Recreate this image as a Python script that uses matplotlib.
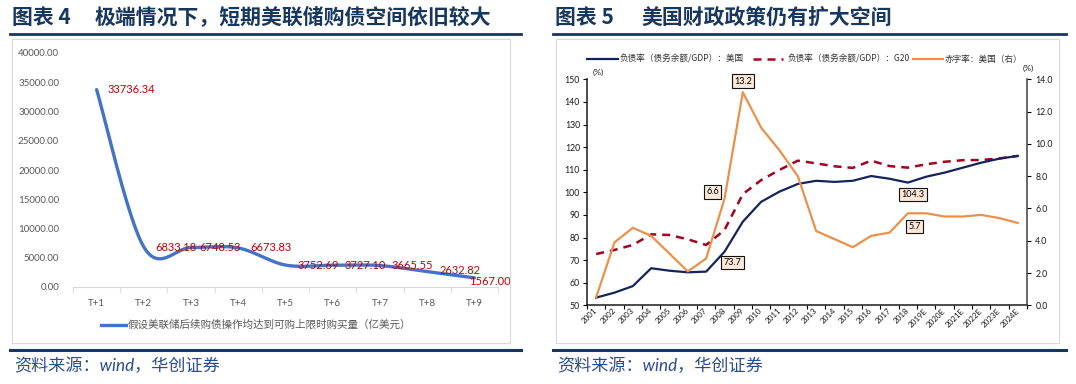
import numpy as np
import matplotlib
matplotlib.use("Agg")
import matplotlib.pyplot as plt
from matplotlib.lines import Line2D
from matplotlib.patches import Rectangle

plt.rcParams['font.family'] = ['Lato', 'Noto Sans CJK SC', 'DejaVu Sans']

# ---------------- data ----------------
left_title_no = "图表 4"
left_title = "极端情况下，短期美联储购债空间依旧较大"
left_cats = ['T+1', 'T+2', 'T+3', 'T+4', 'T+5', 'T+6', 'T+7', 'T+8', 'T+9']
left_vals = [33736.34, 6833.18, 6748.53, 6673.83, 3752.69, 3727.10, 3665.55, 2632.82, 1567.00]
left_series = "假设美联储后续购债操作均达到可购上限时购买量（亿美元）"

right_title_no = "图表 5"
right_title = "美国财政政策仍有扩大空间"
years = ['2001', '2002', '2003', '2004', '2005', '2006', '2007', '2008', '2009', '2010',
         '2011', '2012', '2013', '2014', '2015', '2016', '2017', '2018', '2019E', '2020E',
         '2021E', '2022E', '2023E', '2024E']
debt_us = [53.4, 55.6, 58.5, 66.4, 65.3, 64.6, 64.9, 73.7, 87.0, 95.8, 100.3, 103.7,
           105.1, 104.6, 105.1, 107.2, 106.0, 104.3, 106.9, 108.7, 110.9, 113.1, 114.9, 116.1]
debt_g20 = [72.7, 74.5, 76.7, 81.4, 81.1, 79.2, 76.7, 83.3, 99.2, 105.4, 109.9, 114.0,
            112.8, 111.5, 110.8, 114.0, 111.6, 110.9, 112.4, 113.5, 114.2, 114.3, 115.0, 116.1]
deficit_us = [0.5, 3.9, 4.8, 4.3, 3.2, 2.1, 2.9, 6.6, 13.2, 11.0, 9.6, 8.0,
              4.6, 4.1, 3.6, 4.3, 4.5, 5.7, 5.7, 5.5, 5.5, 5.6, 5.4, 5.1]
legend_names = ["负债率（债务余额/GDP）：美国", "负债率（债务余额/GDP）：G20", "赤字率：美国（右）"]
source_text = "资料来源：wind，华创证券"

# ---------------- layout helpers ----------------
W, H = 1076, 384
fig = plt.figure(figsize=(W / 100, H / 100), dpi=100)


def rect(x0, y0, x1, y1):
    return [x0 / W, 1 - y1 / H, (x1 - x0) / W, (y1 - y0) / H]


def hline(x0, x1, y, color, lw, **kw):
    fig.add_artist(Line2D([x0 / W, x1 / W], [1 - y / H, 1 - y / H],
                          transform=fig.transFigure, color=color, lw=lw, **kw))


def box(x0, y0, x1, y1, color):
    fig.add_artist(Rectangle((x0 / W, 1 - y1 / H), (x1 - x0) / W, (y1 - y0) / H,
                             transform=fig.transFigure, fill=False, ec=color, lw=0.8))


def ftext(x, y, s, **kw):
    fig.text(x / W, 1 - y / H, s, **kw)


def smooth(xv, yv, n=40):
    pts = np.column_stack([xv, yv]).astype(float)
    P = np.vstack([pts[0], pts, pts[-1]])
    out = []
    t = np.linspace(0, 1, n)[:, None]
    h00 = 2 * t**3 - 3 * t**2 + 1
    h10 = t**3 - 2 * t**2 + t
    h01 = -2 * t**3 + 3 * t**2
    h11 = t**3 - t**2
    for i in range(1, len(P) - 2):
        p0, p1, p2, p3 = P[i - 1], P[i], P[i + 1], P[i + 2]
        m1 = (p2 - p0) / 2
        m2 = (p3 - p1) / 2
        seg = h00 * p1 + h10 * m1 + h01 * p2 + h11 * m2
        out.append(seg if i == 1 else seg[1:])
    return np.vstack(out)


NAVY_T = '#17375E'
CJK = ['Noto Sans CJK SC', 'DejaVu Sans']

# ---------------- frames, titles, sources ----------------
for (tx0, tx1, mx, no, title, bx0, bx1) in [
        (10, 521, 95, left_title_no, left_title, 12, 510),
        (553, 1066, 641, right_title_no, right_title, 556, 1059)]:
    ftext(tx0 + 2, 18, no, family=CJK, fontsize=15, fontweight='bold', color=NAVY_T, va='center')
    ftext(mx, 18, title, family=CJK, fontsize=15, fontweight='bold', color=NAVY_T, va='center')
    hline(tx0, tx1, 34, NAVY_T, 2.0)
    box(bx0, 39, bx1, 343, '#D9D9D9')
    hline(tx0, tx1, 350, NAVY_T, 2.2)
    ftext(tx0 + 4, 366, source_text, family=['Lato', 'Noto Sans CJK SC'], style='italic',
          fontsize=12.3, color='#2A4B8D', va='center')

# ---------------- left chart ----------------
ax1 = fig.add_axes(rect(73, 53, 498, 287))
xl = np.arange(len(left_cats))
curve = smooth(xl, left_vals)
ax1.plot(curve[:, 0], curve[:, 1], color='#4472C4', lw=2.4, solid_capstyle='round')
ax1.set_xlim(-0.5, len(left_cats) - 0.5)
ax1.set_ylim(0, 40000)
yt = np.arange(0, 40001, 5000)
ax1.set_yticks(yt, [f'{v:.2f}' for v in yt])
ax1.set_xticks(xl, left_cats)
ax1.set_xticks(np.arange(-0.5, len(left_cats)), minor=True)
for s in ['top', 'right', 'left']:
    ax1.spines[s].set_visible(False)
ax1.spines['bottom'].set_color('#D9D9D9')
ax1.tick_params(axis='y', length=0, pad=10, labelsize=7, labelcolor='#595959')
ax1.tick_params(axis='x', which='major', length=0, pad=9, labelsize=7, labelcolor='#595959')
ax1.tick_params(axis='x', which='minor', length=4, color='#D9D9D9', direction='out')
ax1.patch.set_alpha(0)
label_dx = [11, 12, 8, 12, 12, 12, 12, 12, -5]
label_dy = [0, 0, 0, 0, 0, 0, 0, 1, -4]
for i, v in enumerate(left_vals):
    ax1.annotate(f'{v:.2f}', (i, v), xytext=(label_dx[i], label_dy[i]), textcoords='offset pixels',
                 ha='left', va='center', fontsize=8, color='#C00000')

hline(101, 126, 325, '#4472C4', 2.4)
ftext(128, 325, left_series, family=CJK, fontsize=7.6, color='#595959', va='center')

# ---------------- right chart ----------------
ax2 = fig.add_axes(rect(587, 79.3, 1027, 305.3))
xr = np.arange(len(years))
ax2.plot(xr, debt_us, color='#14235A', lw=1.6, zorder=3)
ax2.plot(xr, debt_g20, color='#A50021', lw=1.8, dashes=(3.2, 2.4), zorder=2)
ax2.set_xlim(-0.5, len(years) - 0.5)
ax2.set_ylim(50, 150)
ax2.set_yticks(np.arange(50, 151, 10))
ax2.set_xticks(xr, years)
ax2.set_xticks(np.arange(-0.5, len(years)), minor=True)
for s in ['top', 'right']:
    ax2.spines[s].set_visible(False)
for s in ['left', 'bottom']:
    ax2.spines[s].set_color('#1A1A1A')
    ax2.spines[s].set_linewidth(1.1)
ax2.tick_params(axis='y', length=3, width=0.8, pad=2, labelsize=6.3, labelcolor='#1A1A1A')
ax2.tick_params(axis='x', which='major', length=0, pad=3, labelsize=5.8, labelcolor='#1A1A1A')
ax2.tick_params(axis='x', which='minor', length=3, width=0.8, direction='out')
for lab in ax2.get_xticklabels():
    lab.set_rotation(45)
    lab.set_ha('right')
    lab.set_va('center')
    lab.set_rotation_mode('anchor')

ax3 = ax2.twinx()
ax3.plot(xr, deficit_us, color='#E9914A', lw=1.6, zorder=4)
ax3.set_ylim(0, 14)
ax3.set_yticks(np.arange(0, 14.1, 2), [f'{v:.1f}' for v in np.arange(0, 14.1, 2)])
for s in ['top', 'left', 'bottom']:
    ax3.spines[s].set_visible(False)
ax3.spines['right'].set_color('#404040')
ax3.spines['right'].set_linewidth(1.1)
ax3.tick_params(axis='y', length=3, width=0.8, pad=3, labelsize=6.3, labelcolor='#1A1A1A')

bbox = dict(boxstyle='square,pad=0.25', fc='#FBE8D8', ec='#111111', lw=0.8)
ann_fs = 6.5
i09 = years.index('2009')
i08 = years.index('2008')
i18 = years.index('2018')
ax3.annotate(f'{deficit_us[i09]:.1f}', (i09, deficit_us[i09]), xytext=(0, 11),
             textcoords='offset pixels', ha='center', va='center', fontsize=ann_fs, bbox=bbox)
ax3.annotate(f'{deficit_us[i08]:.1f}', (i08, deficit_us[i08]), xytext=(-12, 7),
             textcoords='offset pixels', ha='center', va='center', fontsize=ann_fs, bbox=bbox)
ax3.annotate(f'{deficit_us[i18]:.1f}', (i18, deficit_us[i18]), xytext=(7, -13),
             textcoords='offset pixels', ha='center', va='center', fontsize=ann_fs, bbox=bbox)
ax2.annotate(f'{debt_us[i08]:.1f}', (i08, debt_us[i08]), xytext=(8, -11),
             textcoords='offset pixels', ha='center', va='center', fontsize=ann_fs, bbox=bbox)
ax2.annotate(f'{debt_us[i18]:.1f}', (i18, debt_us[i18]), xytext=(5, -12),
             textcoords='offset pixels', ha='center', va='center', fontsize=ann_fs, bbox=bbox)

ftext(593, 72, '(%)', fontsize=6, color='#1A1A1A', va='center')
ftext(1023, 68, '(%)', fontsize=6, color='#1A1A1A', va='center')

# top legend
hline(587, 618, 59, '#14235A', 1.6)
ftext(620, 59, legend_names[0], family=CJK, fontsize=6.2, color='#333333', va='center')
hline(753, 783, 59, '#A50021', 1.8, dashes=(3.2, 2.4))
ftext(787, 59, legend_names[1], family=CJK, fontsize=6.2, color='#333333', va='center')
hline(913, 943, 59, '#E9914A', 1.6)
ftext(945, 59, legend_names[2], family=CJK, fontsize=6.2, color='#333333', va='center')

fig.savefig('out.png', dpi=100)
